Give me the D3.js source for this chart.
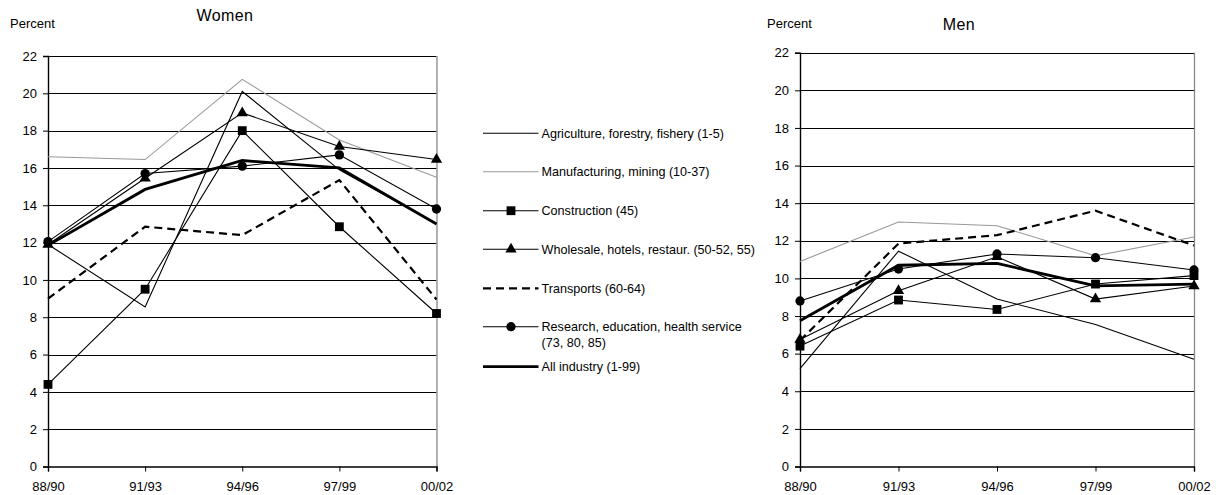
<!DOCTYPE html>
<html>
<head>
<meta charset="utf-8">
<script src="https://cdn.jsdelivr.net/npm/d3@7"></script>
<style>
  html, body { margin: 0; padding: 0; background: #fff; }
  svg { display: block; font-family: "Liberation Sans", Arial, sans-serif; }
</style>
</head>
<body>
<svg id="chart" width="1219" height="495"></svg>
<script>
// ---- Data ----
const periods = ["88/90", "91/93", "94/96", "97/99", "00/02"];
const yTicks = [0, 2, 4, 6, 8, 10, 12, 14, 16, 18, 20, 22];

const seriesNames = [
  "Agriculture, forestry, fishery (1-5)",
  "Manufacturing, mining (10-37)",
  "Construction (45)",
  "Wholesale, hotels, restaur. (50-52, 55)",
  "Transports (60-64)",
  "Research, education, health service|(73, 80, 85)",
  "All industry (1-99)"
];

// Women
const agricultureW   = [11.9, 8.55, 20.1, 15.9, 13.0];
const manufacturingW = [16.6, 16.45, 20.75, 17.5, 15.5];
const constructionW  = [4.4, 9.5, 18.0, 12.85, 8.2];
const wholesaleW     = [11.9, 15.45, 18.95, 17.15, 16.45];
const transportsW    = [9.0, 12.85, 12.4, 15.35, 8.95];
const researchW      = [12.05, 15.7, 16.1, 16.7, 13.8];
const allIndustryW   = [11.85, 14.85, 16.4, 16.0, 13.0];

// Men
const agricultureM   = [5.2, 11.45, 8.9, 7.55, 5.7];
const manufacturingM = [10.9, 13.0, 12.8, 11.2, 12.2];
const constructionM  = [6.4, 8.85, 8.35, 9.7, 10.15];
const wholesaleM     = [6.75, 9.35, 11.15, 8.9, 9.6];
const transportsM    = [6.7, 11.85, 12.3, 13.6, 11.75];
const researchM      = [8.8, 10.5, 11.3, 11.1, 10.45];
const allIndustryM   = [7.75, 10.7, 10.8, 9.6, 9.7];

// ---- Styles (by series index) ----
const styles = [
  { stroke: "#000", width: 1.1, dash: null, marker: null },
  { stroke: "#999", width: 1.1, dash: null, marker: null },
  { stroke: "#000", width: 1.1, dash: null, marker: "square" },
  { stroke: "#000", width: 1.1, dash: null, marker: "triangle" },
  { stroke: "#000", width: 2.2, dash: "8,5", marker: null },
  { stroke: "#000", width: 1.1, dash: null, marker: "circle" },
  { stroke: "#000", width: 2.8, dash: null, marker: null }
];

const svg = d3.select("#chart");
const font = "'Liberation Sans', Arial, sans-serif";

function markerPath(type) {
  if (type === "square") return d3.symbol().type(d3.symbolSquare).size(78)();
  if (type === "triangle") return d3.symbol().type(d3.symbolTriangle).size(55)();
  if (type === "circle") return d3.symbol().type(d3.symbolCircle).size(68)();
  return null;
}

function drawPanel(cfg) {
  const g = svg.append("g");
  const x = d3.scalePoint().domain(periods).range([cfg.x0, cfg.x1]).padding(0);
  const y = d3.scaleLinear().domain([0, 22]).range([cfg.yb, cfg.yt]);

  // gridlines
  g.append("g").selectAll("line").data(yTicks.filter(d => d > 0)).join("line")
    .attr("x1", cfg.x0).attr("x2", cfg.x1)
    .attr("y1", d => Math.round(y(d)) + 0.5).attr("y2", d => Math.round(y(d)) + 0.5)
    .attr("stroke", "#000").attr("stroke-width", 1);

  // right border
  g.append("line")
    .attr("x1", cfg.x1 + 0.5).attr("x2", cfg.x1 + 0.5)
    .attr("y1", y(22)).attr("y2", y(0))
    .attr("stroke", "#888").attr("stroke-width", 1.3);

  // y axis
  const ya = g.append("g").attr("transform", `translate(${cfg.x0},0)`)
    .call(d3.axisLeft(y).tickValues(yTicks).tickSize(5).tickPadding(6).tickFormat(d3.format("d")));
  ya.select(".domain").attr("stroke", "#000").attr("stroke-width", 1.4);
  ya.selectAll(".tick line").attr("stroke", "#000");
  ya.selectAll("text").attr("font-size", 13).attr("font-family", font).attr("fill", "#000");

  // x axis
  const xa = g.append("g").attr("transform", `translate(0,${cfg.yb})`)
    .call(d3.axisBottom(x).tickSize(5).tickPadding(10));
  xa.select(".domain").attr("stroke", "#000").attr("stroke-width", 1.4);
  xa.selectAll(".tick line").attr("stroke", "#000");
  xa.selectAll("text").attr("font-size", 13).attr("font-family", font).attr("fill", "#000");

  // lines
  const line = d3.line().x((d, i) => x(periods[i])).y(d => y(d));
  cfg.data.forEach((vals, si) => {
    const st = styles[si];
    g.append("path").datum(vals)
      .attr("d", line).attr("fill", "none")
      .attr("stroke", st.stroke).attr("stroke-width", st.width)
      .attr("stroke-dasharray", st.dash)
      .attr("stroke-linejoin", "miter");
    if (st.marker) {
      g.append("g").selectAll("path").data(vals).join("path")
        .attr("d", markerPath(st.marker))
        .attr("transform", (d, i) => `translate(${x(periods[i])},${y(d)})`)
        .attr("fill", "#000");
    }
  });

  // titles
  svg.append("text").attr("x", cfg.percentX).attr("y", cfg.percentY)
    .attr("font-size", 13).attr("font-family", font).text("Percent");
  svg.append("text").attr("x", cfg.titleX).attr("y", cfg.titleY)
    .attr("text-anchor", "middle").attr("font-size", 16).attr("letter-spacing", 0.4)
    .attr("font-family", font).text(cfg.title);
}

drawPanel({
  x0: 48, x1: 436.5, yt: 56, yb: 466.5,
  data: [agricultureW, manufacturingW, constructionW, wholesaleW, transportsW, researchW, allIndustryW],
  title: "Women", titleX: 225, titleY: 21, percentX: 10, percentY: 28
});

drawPanel({
  x0: 800, x1: 1194, yt: 52.7, yb: 466.5,
  data: [agricultureM, manufacturingM, constructionM, wholesaleM, transportsM, researchM, allIndustryM],
  title: "Men", titleX: 959, titleY: 30, percentX: 767, percentY: 28
});

// ---- Legend ----
const legendYs = [133.3, 171.7, 210.7, 249.3, 288.3, 326.7, 366.7];
const lg = svg.append("g");
seriesNames.forEach((name, i) => {
  const st = styles[i];
  const ly = legendYs[i];
  lg.append("line").attr("x1", 483).attr("x2", 538.5)
    .attr("y1", ly).attr("y2", ly)
    .attr("stroke", st.stroke).attr("stroke-width", st.width)
    .attr("stroke-dasharray", st.dash);
  if (st.marker) {
    lg.append("path").attr("d", markerPath(st.marker))
      .attr("transform", `translate(511,${ly})`).attr("fill", "#000");
  }
  const parts = name.split("|");
  parts.forEach((p, j) => {
    lg.append("text").attr("x", 541.5).attr("y", ly + 4.5 + j * 15.5)
      .attr("font-size", 12.6).attr("font-family", font).text(p);
  });
});
</script>
</body>
</html>
